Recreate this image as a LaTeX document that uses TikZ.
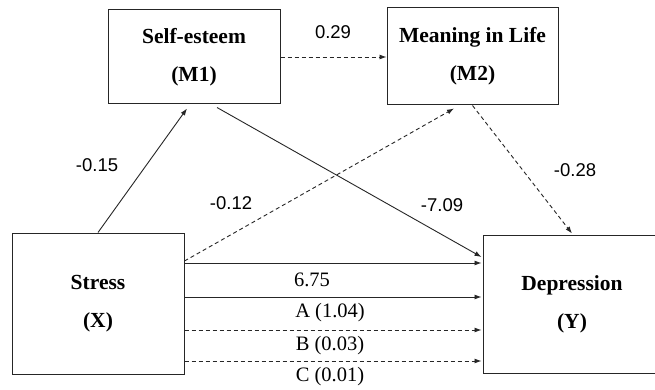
\documentclass[tikz,border=0pt]{standalone}
\usepackage{fontspec}
\setmainfont{Liberation Serif}
\newfontfamily\arialf{Liberation Sans}
\usetikzlibrary{arrows.meta,calc}
\begin{document}
\begin{tikzpicture}[x=1pt,y=-1pt,
  varbox/.style={draw=black!85,line width=1pt,rectangle,inner sep=0pt,align=center,
     font=\fontsize{21.5}{38}\selectfont\bfseries},
  conn/.style={black!85,line width=0.9pt,-{Latex[length=7pt,width=5pt]}},
  dconn/.style={conn,dash pattern=on 4pt off 3pt},
  snum/.style={font=\arialf\fontsize{18.5}{20}\selectfont,inner sep=0pt},
  rnum/.style={font=\fontsize{20.5}{22}\selectfont,inner sep=0pt}]
\useasboundingbox (0,0) rectangle (655,390);
\clip (0,0) rectangle (655,390);
\fill[white] (0,0) rectangle (655,390);
% boxes
\node[varbox,minimum width=172pt,minimum height=94pt] (M1) at (194,57) {Self-esteem\\(M1)};
\node[varbox,minimum width=171pt,minimum height=97pt] (M2) at (472.5,56.5) {Meaning in Life\\(M2)};
\node[varbox,minimum width=172pt,minimum height=141pt] (X) at (98,303.5) {Stress\\(X)};
\node[varbox,minimum width=178pt,minimum height=138pt] (Y) at (572,304) {Depression\\(Y)};
% anchor points
\coordinate (s1) at ([yshift=40.5pt]X.east);
\coordinate (s2) at ([yshift=6.5pt]X.east);
\coordinate (s3) at ([yshift=-26.5pt]X.east);
\coordinate (s4) at ([yshift=-57.5pt]X.east);
% connectors
\draw[conn] (X.north) -- ([xshift=-7pt,yshift=-4pt]M1.south);
\draw[dconn] ([yshift=42.5pt]X.east) -- ([xshift=-18.5pt,yshift=-3pt]M2.south);
\draw[dconn] (M1.east) -- (M2.west |- M1.east);
\draw[conn] ([xshift=23pt,yshift=-3pt]M1.south) -- ([xshift=-1pt,yshift=47pt]Y.west);
\draw[dconn] (M2.south) -- ([yshift=1pt]Y.north);
\draw[conn,shorten >=1pt] (s1) -- (s1 -| Y.west);
\draw[conn,shorten >=1pt] (s2) -- (s2 -| Y.west);
\draw[dconn,shorten >=1pt] (s3) -- (s3 -| Y.west);
\draw[dconn,shorten >=1pt] (s4) -- (s4 -| Y.west);
% labels
\node[snum] (l1) at (333,32) {0.29};
\node[snum] (l2) at (97,165) {-0.15};
\node[snum] (l3) at (231,203) {-0.12};
\node[snum] (l4) at (442,205) {-7.09};
\node[snum] (l5) at (575,170) {-0.28};
\node[rnum] (l6) at (312,280) {6.75};
\node[rnum] (l7) at (330,313) {A (1.04)};
\node[rnum] (l8) at (330,345.5) {B (0.03)};
\node[rnum] (l9) at (330,376.5) {C (0.01)};
\end{tikzpicture}
\end{document}
